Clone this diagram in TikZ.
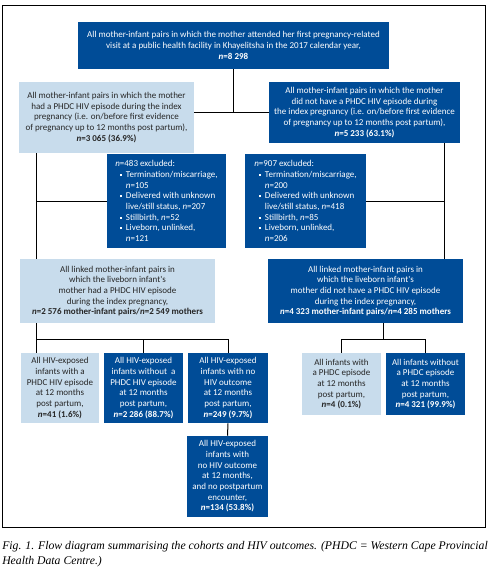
\documentclass[tikz,border=0pt]{standalone}
\usepackage{fontspec}
\newfontfamily\boxfont{Carlito}
\newfontfamily\capfont{Liberation Serif}
\definecolor{phdcdark}{RGB}{0,76,151}
\definecolor{phdclight}{RGB}{200,220,236}
\newcommand{\exbul}{\makebox[4.5pt][l]{\rule[1pt]{1.5pt}{1.5pt}}}
\newcommand{\exind}{\hspace*{8pt}}
\tikzset{
  sz/.style 2 args={minimum width=#1*0.75pt, minimum height=#2*0.75pt},
  box/.style={inner sep=0pt, align=center, font=\boxfont\fontsize{6.75}{8}\selectfont},
  darkbox/.style={box, fill=phdcdark, text=white},
  lightbox/.style={box, fill=phdclight, text=black!85},
  link/.style={line width=0.75pt, black}
}
\begin{document}
\begin{tikzpicture}[x=0.75pt,y=0.75pt,yscale=-1,xscale=1]
\useasboundingbox (0,0) rectangle (497,575);

% outer frame
\draw [link] (2,5) rectangle (485,527);

% Boxes
\node [darkbox, sz={311}{47}] (top) at (233.5,45.5) {All mother-infant pairs in which the mother attended her first pregnancy-related\\ visit at a public health facility in Khayelitsha in the 2017 calendar year,\\ \textbf{\textit{n}=8 298}};
\node [lightbox, sz={175}{71}] (hiv) at (106.5,117.5) {All mother-infant pairs in which the mother\\ had a PHDC HIV episode during the index\\ pregnancy (i.e. on/before first evidence\\ of pregnancy up to 12 months post partum),\\ \textbf{\textit{n}=3 065 (36.9\%)}};
\node [darkbox, sz={191}{61}] (nohiv) at (364.5,112.5) {All mother-infant pairs in which the mother\\ did not have a PHDC HIV episode during\\ the index pregnancy (i.e. on/before first evidence\\ of pregnancy up to 12 months post partum),\\ \textbf{\textit{n}=5 233 (63.1\%)}};

% excluded
\node [darkbox, sz={119}{94}, align=left] (exclL) at (166.5,201) {\textit{n}=483 excluded:\\ \hspace*{3.5pt}\exbul Termination/miscarriage,\\ \exind\textit{n}=105\\ \hspace*{3.5pt}\exbul Delivered with unknown\\ \exind live/still status, \textit{n}=207\\ \hspace*{3.5pt}\exbul Stillbirth, \textit{n}=52\\ \hspace*{3.5pt}\exbul Liveborn, unlinked,\\ \exind\textit{n}=121};
\node [darkbox, sz={121}{94}, align=left] (exclR) at (305.5,201) {\textit{n}=907 excluded:\\ \hspace*{3.5pt}\exbul Termination/miscarriage,\\ \exind\textit{n}=200\\ \hspace*{3.5pt}\exbul Delivered with unknown\\ \exind live/still status, \textit{n}=418\\ \hspace*{3.5pt}\exbul Stillbirth, \textit{n}=85\\ \hspace*{3.5pt}\exbul Liveborn, unlinked,\\ \exind\textit{n}=206};

% linked pairs
\node [lightbox, sz={195}{64}] (linkL) at (117.5,291) {All linked mother-infant pairs in\\ which the liveborn infant's\\ mother had a PHDC HIV episode\\ during the index pregnancy,\\ \textbf{\textit{n}=2 576 mother-infant pairs/\textit{n}=2 549 mothers}};
\node [darkbox, sz={195}{64}] (linkR) at (365.5,291) {All linked mother-infant pairs in\\ which the liveborn infant's\\ mother did not have a PHDC HIV episode\\ during the index pregnancy,\\ \textbf{\textit{n}=4 323 mother-infant pairs/\textit{n}=4 285 mothers}};

% infant outcomes, HIV-exposed
\node [lightbox, sz={78}{70}] (expA) at (60,388) {All HIV-exposed\\ infants with a\\ PHDC HIV episode\\ at 12 months\\ post partum,\\ \textbf{\textit{n}=41 (1.6\%)}};
\node [darkbox, sz={79}{70}] (expB) at (143.5,388) {All HIV-exposed\\ infants without\ \ a\\ PHDC HIV episode\\ at 12 months\\ post partum,\\ \textbf{\textit{n}=2 286 (88.7\%)}};
\node [darkbox, sz={80}{70}] (expC) at (228,388) {All HIV-exposed\\ infants with no\\ HIV outcome\\ at 12 months\\ post partum,\\ \textbf{\textit{n}=249 (9.7\%)}};
\node [darkbox, sz={81}{81}] (expD) at (227.5,476.5) {All HIV-exposed\\ infants with\\ no HIV outcome\\ at 12 months,\\ and no postpartum\\ encounter,\\ \textbf{\textit{n}=134 (53.8\%)}};

% infant outcomes, unexposed
\node [lightbox, sz={79}{62}] (unexA) at (341.5,384) {All infants with\\ a PHDC episode\\ at 12 months\\ post partum,\\ \textbf{\textit{n}=4 (0.1\%)}};
\node [darkbox, sz={79}{62}] (unexB) at (425.5,384) {All infants without\\ a PHDC episode\\ at 12 months\\ post partum,\\ \textbf{\textit{n}=4 321 (99.9\%)}};

% legs
\coordinate (legL) at (36,0);
\coordinate (legR) at (444,0);
\coordinate (forkL) at (0,339);

% Connectors
\draw [link] (top.south) -- (top.south |- nohiv.west);
\draw [link] (hiv.east |- nohiv.west) -- (nohiv.west);
\draw [link] (legL |- hiv.south) -- (legL |- linkL.north);
\draw [link] (legL |- exclL.west) -- (exclL.west);
\draw [link] (legR |- nohiv.south) -- (legR |- linkR.north);
\draw [link] (legR |- exclR.east) -- (exclR.east);

\draw [link] (legL |- linkL.south) -- (legL |- expA.north);
\draw [link] (legL |- forkL) -- (expC.north |- forkL) -- (expC.north);
\draw [link] (expB.north |- forkL) -- (expB.north);
\draw [link] (expC.south) -- (expD.north);

\draw [link] (linkR.south -| 383,0) -- (383,339);
\draw [link] (unexA.north) -- (unexA.north |- forkL) -- (unexB.north |- forkL) -- (unexB.north);

% caption
\node [anchor=north west, inner sep=0pt, align=left, font=\capfont\itshape\fontsize{8.8}{11.25}\selectfont] (caption) at (2,541) {Fig. 1. Flow diagram summarising the cohorts and HIV outcomes. (PHDC = Western Cape Provincial\\ Health Data Centre.)};

\end{tikzpicture}
\end{document}
